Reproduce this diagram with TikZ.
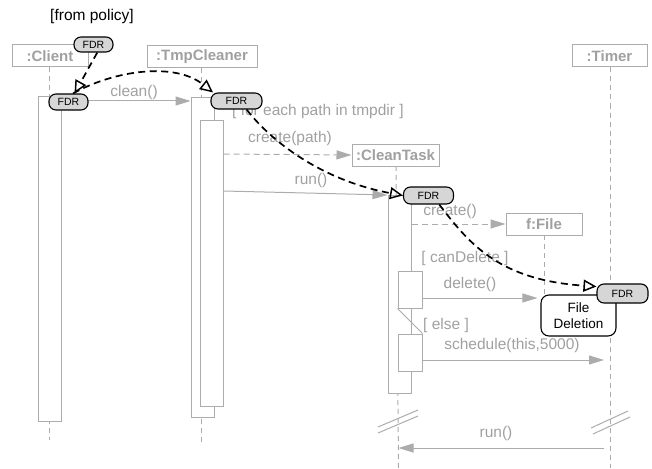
\documentclass[tikz,border=0pt]{standalone}
\usepackage{fontspec}
\setmainfont{Liberation Sans}
\usetikzlibrary{arrows.meta}
\definecolor{lg}{RGB}{172,172,172}
\definecolor{tg}{RGB}{160,160,160}
\definecolor{fdrfill}{RGB}{214,214,214}
\begin{document}
\begin{tikzpicture}[x=1pt,y=-1pt,
  head/.style={draw=lg, line width=1pt, fill=white, text=tg, font=\fontsize{15}{18}\selectfont\bfseries, minimum height=22pt, inner sep=0pt},
  life/.style={draw=lg, line width=1pt, dash pattern=on 5pt off 4pt},
  act/.style={draw=lg, line width=1pt, fill=white, inner sep=0pt},
  msg/.style={draw=lg, line width=1pt, -{Triangle[length=15pt,width=9pt]}},
  dmsg/.style={msg, dash pattern=on 6pt off 4pt},
  lbl/.style={text=tg, font=\fontsize{15.5}{18}\selectfont, inner sep=0pt},
  fdr/.style={draw=black, line width=1.1pt, fill=fdrfill, rounded corners=7pt, font=\fontsize{10.5}{12}\selectfont, inner sep=0pt},
  flow/.style={draw=black, line width=1.7pt, dash pattern=on 7pt off 4.5pt, -{Triangle[open,length=13pt,width=12pt,line width=1.5pt]}},
  brk/.style={draw=lg, line width=1pt}
]
\useasboundingbox (0,0) rectangle (652,468);

% y levels
\coordinate (Y101) at (0,101);
\coordinate (Y154) at (0,154);
\coordinate (Y191) at (0,191);
\coordinate (Y195) at (0,195);
\coordinate (Y224) at (0,224);
\coordinate (Y298) at (0,298);
\coordinate (Y360) at (0,360);
\coordinate (Y448) at (0,448);

% lifeline ends
\coordinate (lclient) at (49.5,440);
\coordinate (ltmp) at (201.5,443);
\coordinate (lclean) at (398.5,468);
\coordinate (lfile) at (544,300);
\coordinate (ltimer) at (610,468);

% headers
\node[head, minimum width=76pt] (hclient) at (50,56) {:Client};
\node[head, minimum width=110pt] (htmp) at (202,56.5) {:TmpCleaner};
\node[head, minimum width=75pt] (htimer) at (609.5,56) {:Timer};

% lifelines
\draw[life] (hclient.south -| lclient) -- (lclient);
\draw[life] (htmp.south -| ltmp) -- (ltmp);
\draw[life] (htimer.south -| ltimer) -- (ltimer);
\draw[life] (396,166) -- (lclean);
\draw[life] (544,235) -- (lfile);

\node[head, minimum width=87pt] (hclean) at (395.5,155) {:CleanTask};
\node[head, minimum width=76pt] (hfile) at (544,224) {f:File};

% activations
\node[act, minimum width=22.5pt, minimum height=324pt] (aclient) at (49.75,259) {};
\node[act, minimum width=23pt, minimum height=319pt] (atmp1) at (202.5,257.5) {};
\node[act, minimum width=23pt, minimum height=286pt] (atmp2) at (211.5,263) {};
\node[act, minimum width=23pt, minimum height=198pt] (aclean) at (399.5,294) {};
\node[act, minimum width=24pt, minimum height=37pt] (ab1) at (410,289.5) {};
\node[act, minimum width=24pt, minimum height=37pt] (ab2) at (410,352.5) {};
\draw[brk] (ab1.south west) -- (ab2.north east);

% break marks
\draw[brk] (378,427) -- (418,410);
\draw[brk] (378,433) -- (418,416);
\draw[brk] (591,428) -- (628,411);
\draw[brk] (593,434) -- (630,417);

% File Deletion
\node[draw=black, line width=1.1pt, fill=white, rounded corners=8pt, minimum width=75pt, minimum height=41pt, inner sep=0pt, align=center, font=\fontsize{13.5}{16}\selectfont] (fdel) at (578.5,315.5) {File\\Deletion};

% messages
\draw[msg] (aclient.east |- Y101) -- (atmp1.west |- Y101);
\draw[dmsg] (atmp2.east |- Y154) -- (hclean.west);
\draw[msg] (atmp2.east |- Y191) -- (aclean.west |- Y195);
\draw[dmsg] (aclean.east |- Y224) -- (hfile.west);
\draw[msg, shorten >=3pt] (ab1.east |- Y298) -- (fdel.west |- Y298);
\draw[msg, shorten >=6pt] (ab2.east |- Y360) -- (ltimer |- Y360);
\draw[msg, shorten <=6pt] (ltimer |- Y448) -- (lclean |- Y448);

% labels
\node[font=\fontsize{15.5}{18}\selectfont, inner sep=0pt] (lpol) at (92,16) {[from policy]};
\node[lbl] (lclean1) at (134,92) {clean()};
\node[lbl, anchor=west] (lfor) at (232,111) {[ for each path in tmpdir ]};
\node[lbl] (lcrp) at (290,138) {create(path)};
\node[lbl] (lrun1) at (311,180) {run()};
\node[lbl] (lcr) at (450,211) {create()};
\node[lbl] (lcan) at (465,258) {[ canDelete ]};
\node[lbl] (ldel) at (470,284) {delete()};
\node[lbl] (lelse) at (446,325) {[ else ]};
\node[lbl] (lsch) at (512,345) {schedule(this,5000)};
\node[lbl] (lrun2) at (496,433) {run()};

% FDR nodes
\node[fdr, minimum width=39pt, minimum height=15pt] (fdrtop) at (93.5,44.5) {FDR};
\node[fdr, minimum width=39pt, minimum height=16pt] (fdrc) at (68.5,102) {FDR};
\node[fdr, minimum width=51pt, minimum height=16pt] (fdrt) at (236.5,101) {FDR};
\node[fdr, minimum width=50pt, minimum height=17pt] (fdrk) at (428.5,195.5) {FDR};
\node[fdr, minimum width=51pt, minimum height=19pt] (fdrm) at (622.5,293.5) {FDR};

% flows
\draw[flow] (fdrtop.-65) -- (fdrc.55);
\draw[flow] (fdrc.62) .. controls (115,70) and (175,62) .. (fdrt.160);
\draw[flow] (fdrt.-40) .. controls (270,140) and (320,180) .. (fdrk.west);
\draw[flow] (fdrk.-40) .. controls (470,245) and (500,280) .. (fdrm.165);
\end{tikzpicture}
\end{document}
